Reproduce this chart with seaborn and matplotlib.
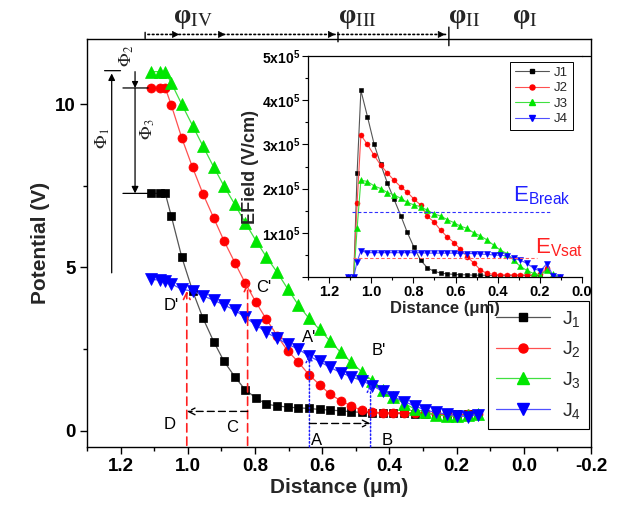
import numpy as np
import pandas as pd
import matplotlib
matplotlib.use('Agg')
import matplotlib.pyplot as plt
import seaborn as sns
from matplotlib.lines import Line2D
from matplotlib.ticker import MultipleLocator, FixedLocator

sns.set_style('ticks')
plt.rcParams['font.family'] = ['Liberation Sans', 'DejaVu Sans']
plt.rcParams['mathtext.fontset'] = 'custom'
plt.rcParams['mathtext.rm'] = 'Liberation Sans'
plt.rcParams['mathtext.it'] = 'Liberation Sans:italic'
plt.rcParams['mathtext.bf'] = 'Liberation Sans:bold'
plt.rcParams['axes.edgecolor'] = 'black'
plt.rcParams['xtick.color'] = 'black'
plt.rcParams['ytick.color'] = 'black'

# ---------------- data: main chart (potential) ----------------
x_pos = [1.111, 1.083, 1.067, 1.049, 1.018, 0.986, 0.955, 0.923, 0.892, 0.860,
         0.829, 0.797, 0.766, 0.734, 0.703, 0.671, 0.640, 0.608, 0.577, 0.545,
         0.514, 0.482, 0.451, 0.419, 0.388, 0.356, 0.325, 0.293, 0.262, 0.230,
         0.199, 0.167, 0.136]
pot_j1 = [7.27, 7.27, 7.27, 6.57, 5.32, 4.29, 3.45, 2.73, 2.12, 1.65, 1.25, 1.00,
          0.81, 0.76, 0.72, 0.70, 0.68, 0.65, 0.63, 0.61, 0.58, 0.56, 0.55, 0.54,
          0.53, 0.53, 0.52, 0.52, 0.51, 0.50, 0.50, 0.50, 0.50]
pot_j2 = [10.5, 10.5, 10.5, 9.97, 8.97, 8.07, 7.26, 6.52, 5.81, 5.15, 4.52, 3.93,
          3.41, 2.91, 2.45, 2.10, 1.72, 1.41, 1.12, 0.92, 0.76, 0.62, 0.56, 0.55,
          0.55, 0.55, 0.55, 0.54, 0.52, 0.50, 0.48, 0.50, 0.52]
pot_j3 = [11.0, 11.0, 11.0, 10.65, 10.0, 9.35, 8.72, 8.08, 7.49, 6.93, 6.37, 5.82,
          5.32, 4.85, 4.35, 3.85, 3.45, 3.10, 2.75, 2.40, 2.10, 1.80, 1.53, 1.25,
          1.02, 0.83, 0.67, 0.56, 0.49, 0.45, 0.44, 0.47, 0.50]
pot_j4 = [4.64, 4.61, 4.59, 4.50, 4.33, 4.28, 4.13, 4.00, 3.85, 3.69, 3.47, 3.24,
          3.01, 2.83, 2.65, 2.50, 2.29, 2.12, 1.94, 1.78, 1.65, 1.53, 1.38, 1.20,
          1.04, 0.89, 0.76, 0.63, 0.56, 0.51, 0.46, 0.43, 0.49]

# ---------------- data: inset (electric field, in units of 1e5 V/cm) ----------------
x_field = [1.111, 1.083, 1.067, 1.049, 1.018, 0.986, 0.955, 0.923, 0.892, 0.860,
           0.829, 0.797, 0.766, 0.734, 0.703, 0.671, 0.640, 0.608, 0.577, 0.545,
           0.514, 0.482, 0.451, 0.419, 0.388, 0.356, 0.325, 0.293, 0.262, 0.230,
           0.199, 0.167, 0.136, 0.105]
field_j1 = [0, 0, 2.35, 4.22, 3.63, 3.00, 2.55, 2.12, 1.76, 1.39, 1.01, 0.67, 0.38,
            0.21, 0.13, 0.09, 0.07, 0.06, 0.05, 0.05, 0.04, 0.04, 0.04, 0.03, 0.03,
            0.03, 0.03, 0.03, 0.03, 0.03, 0.04, 0.16, 0.02, 0.0]
field_j2 = [0, 0, 1.67, 3.21, 3.00, 2.75, 2.53, 2.35, 2.19, 2.04, 1.92, 1.76, 1.63,
            1.37, 1.25, 1.06, 0.91, 0.78, 0.63, 0.46, 0.32, 0.16, 0.08, 0.06, 0.05,
            0.05, 0.05, 0.05, 0.05, 0.05, 0.06, 0.20, 0.03, 0.0]
field_j3 = [0, 0, 1.10, 2.19, 2.16, 2.06, 2.00, 1.91, 1.86, 1.78, 1.69, 1.63, 1.59,
            1.51, 1.43, 1.38, 1.30, 1.23, 1.15, 1.10, 1.00, 0.93, 0.84, 0.72, 0.61,
            0.53, 0.38, 0.24, 0.15, 0.08, 0.05, 0.15, 0.07, 0.0]
field_j4 = [0, 0, 0.35, 0.59, 0.55, 0.55, 0.55, 0.55, 0.55, 0.55, 0.55, 0.55, 0.55,
            0.54, 0.54, 0.54, 0.54, 0.54, 0.53, 0.53, 0.53, 0.52, 0.51, 0.50, 0.49,
            0.48, 0.42, 0.38, 0.31, 0.20, 0.13, 0.30, 0.02, 0.0]
field_unit = 1e5
e_break = 1.46e5
e_vsat = 0.44e5

series_names = ['J1', 'J2', 'J3', 'J4']
legend_main = ['J$_1$', 'J$_2$', 'J$_3$', 'J$_4$']
x_ticks_main = [1.2, 1.0, 0.8, 0.6, 0.4, 0.2, 0.0, -0.2]
x_ticklabels_main = ['1.2', '1.0', '0.8', '0.6', '0.4', '0.2', '0.0', '-0.2']
y_ticks_main = [0, 5, 10]
y_ticklabels_main = ['0', '5', '10']
x_ticks_inset = [1.2, 1.0, 0.8, 0.6, 0.4, 0.2, 0.0]
x_ticklabels_inset = ['1.2', '1.0', '0.8', '0.6', '0.4', '0.2', '0.0']
y_ticks_inset = [0, 1e5, 2e5, 3e5, 4e5, 5e5]
y_ticklabels_inset = ['', r'$\mathbf{1x10^5}$', r'$\mathbf{2x10^5}$',
                      r'$\mathbf{3x10^5}$', r'$\mathbf{4x10^5}$', r'$\mathbf{5x10^5}$']

# styles
colors = ['#000000', '#ff0000', '#00e600', '#0000ff']
line_colors = ['#555555', '#ff5050', '#40e040', '#5050ff']
markers = ['s', 'o', '^', 'v']
msize_main = [5.5, 6.5, 8, 8]
msize_inset = [3.2, 3.6, 4.2, 4.2]

pots = [pot_j1, pot_j2, pot_j3, pot_j4]
fields = [field_j1, field_j2, field_j3, field_j4]

fig = plt.figure(figsize=(6.25, 5.12), dpi=100)
ax = fig.add_axes([0.1392, 0.1270, 0.8064, 0.7968])

for name, p, c, lc, m, ms in zip(series_names, pots, colors, line_colors, markers, msize_main):
    df = pd.DataFrame({'x': x_pos, 'y': p})
    sns.lineplot(data=df, x='x', y='y', ax=ax, color=lc, lw=0.9, marker=m,
                 markersize=ms, markerfacecolor=c, markeredgecolor=c,
                 markeredgewidth=0.5, legend=False, errorbar=None, sort=False)

ax.set_xlim(1.3, -0.2)
ax.set_ylim(-0.5, 12)
ax.set_xticks(x_ticks_main)
ax.set_xticklabels(x_ticklabels_main, fontsize=13.5, fontweight='bold')
ax.set_yticks(y_ticks_main)
ax.set_yticklabels(y_ticklabels_main, fontsize=13.5, fontweight='bold')
ax.xaxis.set_minor_locator(MultipleLocator(0.1))
ax.yaxis.set_minor_locator(FixedLocator([2.5, 7.5]))
ax.tick_params(which='both', direction='out', top=False, right=False, width=1)
ax.tick_params(which='major', length=5, pad=3)
ax.tick_params(which='minor', length=3)
for s in ax.spines.values():
    s.set_linewidth(1.0)
ax.set_xlabel('Distance (μm)', fontsize=15, fontweight='bold', labelpad=2)
ax.set_ylabel('Potential (V)', fontsize=15, fontweight='bold', labelpad=4)

handles = [Line2D([0], [0], color=lc, lw=0.9, marker=m, markersize=ms,
                  markerfacecolor=c, markeredgecolor=c)
           for c, lc, m, ms in zip(colors, line_colors, markers, msize_main)]
leg = ax.legend(handles, legend_main, loc='upper left', bbox_to_anchor=(0.796, 0.358),
                fontsize=14, frameon=True, fancybox=False, edgecolor='black',
                framealpha=1, borderpad=0.4, labelspacing=0.55, handlelength=2.8,
                handletextpad=0.6, borderaxespad=0)
leg.get_frame().set_linewidth(0.8)

# ------------- annotations on main axes -------------
txt = dict(fontsize=12, color='black')
# top dotted line with region ticks
ax.annotate('', xy=(0.223, 12.14), xytext=(1.127, 12.14),
            arrowprops=dict(arrowstyle='-', ls=':', lw=1.2, color='black'),
            annotation_clip=False)
for xh in [1.017, 0.880, 0.553, 0.226]:
    ax.annotate('', xy=(xh, 12.14), xytext=(xh + 0.03, 12.14),
                arrowprops=dict(arrowstyle='-|>', lw=0.5, color='black', mutation_scale=11),
                annotation_clip=False)
for xt, y0, y1 in [(1.127, 11.93, 12.29), (0.553, 11.83, 12.29), (0.223, 11.71, 12.45)]:
    ax.annotate('', xy=(xt, y1), xytext=(xt, y0),
                arrowprops=dict(arrowstyle='-', lw=1.0, color='black'),
                annotation_clip=False)
for xt, lab in [(1.044, r'φ$_{\rm IV}$'), (0.553, r'φ$_{\rm III}$'),
                (0.226, r'φ$_{\rm II}$'), (0.035, r'φ$_{\rm I}$')]:
    ax.text(xt, 12.62, lab, family=['Liberation Serif', 'DejaVu Serif'],
            fontweight='bold', math_fontfamily='stix', fontsize=20, ha='left',
            va='center', clip_on=False)

# Phi arrows
ax.annotate('', xy=(1.2265, 11.03), xytext=(1.2265, 4.75),
            arrowprops=dict(arrowstyle='-|>', lw=0.9, color='black', mutation_scale=10))
ax.annotate('', xy=(1.192, 11.03), xytext=(1.256, 11.03),
            arrowprops=dict(arrowstyle='-', lw=0.9, color='black'))
ax.annotate('', xy=(1.157, 10.5), xytext=(1.157, 11.0),
            arrowprops=dict(arrowstyle='-|>', lw=0.9, color='black', mutation_scale=9,
                            shrinkA=0, shrinkB=0))
ax.annotate('', xy=(1.157, 7.27), xytext=(1.157, 10.5),
            arrowprops=dict(arrowstyle='-|>', lw=0.9, color='black', mutation_scale=10,
                            shrinkA=0, shrinkB=0))
for yb in [10.5, 7.27]:
    ax.annotate('', xy=(1.118, yb), xytext=(1.193, yb),
                arrowprops=dict(arrowstyle='-', lw=0.9, color='black', shrinkA=0, shrinkB=0))
ax.text(1.252, 8.96, r'$\Phi_1$', math_fontfamily='stix', fontsize=13, rotation=90,
        ha='center', va='center')
ax.text(1.181, 11.47, r'$\Phi_2$', math_fontfamily='stix', fontsize=13, rotation=90,
        ha='center', va='center')
ax.text(1.118, 9.24, r'$\Phi_3$', math_fontfamily='stix', fontsize=13, rotation=90,
        ha='center', va='center')

# dashed red arrows (C', D')
for xv, yv in [(1.003, 4.28), (0.822, 4.52)]:
    ax.annotate('', xy=(xv, yv), xytext=(xv, -0.45),
                arrowprops=dict(arrowstyle='->', ls=(0, (5, 3)), lw=1.2, color='#ff2020',
                                shrinkA=0, shrinkB=0, mutation_scale=12))
ax.annotate('', xy=(1.003, 0.59), xytext=(0.822, 0.59),
            arrowprops=dict(arrowstyle='->', ls=(0, (5, 3)), lw=1.0, color='black',
                            shrinkA=0, shrinkB=0, mutation_scale=12))
# dotted blue arrows (A', B')
for xv, yv in [(0.638, 2.34), (0.456, 1.43)]:
    ax.annotate('', xy=(xv, yv), xytext=(xv, -0.5),
                arrowprops=dict(arrowstyle='->', ls=(0, (1, 1.5)), lw=1.1, color='#2020ff',
                                shrinkA=0, shrinkB=0, mutation_scale=12))
ax.annotate('', xy=(0.456, 0.22), xytext=(0.638, 0.22),
            arrowprops=dict(arrowstyle='->', ls=(0, (5, 3)), lw=1.0, color='black',
                            shrinkA=0, shrinkB=0, mutation_scale=12))
for xl, yl, lab in [(1.053, 0.2, 'D'), (0.869, 0.1, 'C'), (1.048, 3.82, "D'"),
                    (0.775, 4.38, "C'"), (0.638, 2.85, "A'"), (0.433, 2.45, "B'"),
                    (0.617, -0.31, 'A'), (0.408, -0.31, 'B')]:
    ax.text(xl, yl, lab, ha='center', va='center', **txt)

# ------------- inset -------------
axi = fig.add_axes([0.4928, 0.459, 0.4384, 0.4316])
axi.set_facecolor('white')
for name, f, c, lc, m, ms in zip(series_names, fields, colors, line_colors, markers, msize_inset):
    df = pd.DataFrame({'x': x_field, 'y': np.array(f) * field_unit})
    sns.lineplot(data=df, x='x', y='y', ax=axi, color=lc, lw=0.8, marker=m,
                 markersize=ms, markerfacecolor=c, markeredgecolor=c,
                 markeredgewidth=0.4, legend=False, errorbar=None, sort=False)
axi.hlines(e_break, 1.093, 0.144, colors='#3030ff', linestyles=(0, (3, 2)), lw=0.8)
axi.hlines(e_vsat, 1.085, 0.215, colors='#ff6060', linestyles=(0, (3, 2)), lw=0.8)
axi.text(0.327, 1.85e5, r'E$_{\rm Break}$', color='#2020ff', fontsize=16,
         ha='left', va='center')
axi.text(0.223, 0.66e5, r'E$_{\rm Vsat}$', color='#ff2020', fontsize=16,
         ha='left', va='center')

axi.set_xlim(1.3, 0.0)
axi.set_ylim(0, 5e5)
axi.set_xticks(x_ticks_inset)
axi.set_xticklabels(x_ticklabels_inset, fontsize=10.5, fontweight='bold')
axi.set_yticks(y_ticks_inset)
axi.set_yticklabels(y_ticklabels_inset, fontsize=10)
axi.xaxis.set_minor_locator(MultipleLocator(0.1))
axi.yaxis.set_minor_locator(MultipleLocator(0.5e5))
axi.tick_params(which='both', direction='out', top=False, right=False, width=0.8)
axi.tick_params(which='major', length=4, pad=2)
axi.tick_params(which='minor', length=2)
axi.spines['right'].set_visible(False)
for s in ['left', 'bottom', 'top']:
    axi.spines[s].set_linewidth(0.9)
axi.set_xlabel('Distance (μm)', fontsize=12, fontweight='bold', labelpad=1)
axi.set_ylabel('EField (V/cm)', fontsize=13, fontweight='bold', labelpad=2)

handles_i = [Line2D([0], [0], color=lc, lw=0.8, marker=m, markersize=ms,
                    markerfacecolor=c, markeredgecolor=c)
             for c, lc, m, ms in zip(colors, line_colors, markers, msize_inset)]
legi = axi.legend(handles_i, series_names, loc='upper right', bbox_to_anchor=(0.967, 0.973),
                  fontsize=9.5, frameon=True, fancybox=False, edgecolor='black',
                  framealpha=1, borderpad=0.35, labelspacing=0.25, handlelength=2.6,
                  handletextpad=0.4, borderaxespad=0)
legi.get_frame().set_linewidth(0.7)

fig.add_artist(Line2D([582 / 625, 590 / 625], [0.8906, 0.8906],
                      transform=fig.transFigure, color='black', lw=0.9))

fig.savefig('out.png', dpi=100)
